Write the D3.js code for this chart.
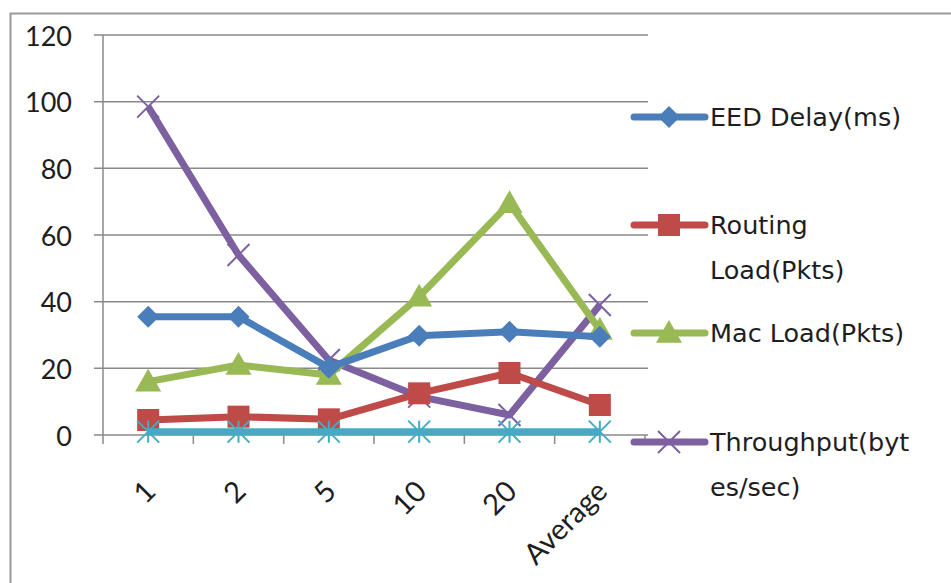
<!DOCTYPE html>
<html>
<head>
<meta charset="utf-8">
<script src="https://cdn.jsdelivr.net/npm/d3@7"></script>
<style>
  html, body { margin: 0; padding: 0; background: #fff; }
  svg { display: block; }
  text { font-family: Lato, "Open Sans", sans-serif; fill: #1e1e1e; }
  .legend text { font-family: "DejaVu Sans", sans-serif; }
</style>
</head>
<body>
<svg id="chart" width="951" height="583"></svg>
<script>
// Category labels along the x axis
const categories = ["1", "2", "5", "10", "20", "Average"];

// Series values, one per category
const eedDelay   = [35.5, 35.5, 20.2, 29.8, 31, 29.5];
const routingLoad = [4.5, 5.5, 4.7, 12.5, 18.6, 9];
const macLoad    = [16, 21, 18, 41.5, 69.5, 31.5];
const throughput = [98.5, 54, 22.5, 11.5, 6, 39];
const extraSeries = [1, 1, 1, 1, 1, 1];

// Y axis ticks
const yTicks = [0, 20, 40, 60, 80, 100, 120];

const series = [
  { name: ["EED Delay(ms)"], values: eedDelay, color: "#4a7ebb", marker: "diamond", legend: true },
  { name: ["Routing", "Load(Pkts)"], values: routingLoad, color: "#be4b48", marker: "square", legend: true },
  { name: ["Mac Load(Pkts)"], values: macLoad, color: "#98b954", marker: "triangle", legend: true },
  { name: ["Throughput(byt", "es/sec)"], values: throughput, color: "#7d60a0", marker: "x", legend: true },
  { name: [""], values: extraSeries, color: "#46aac5", marker: "star", legend: false }
];

const svg = d3.select("#chart");

// outer chart frame (top and left edges visible)
svg.append("rect")
  .attr("x", 10.5).attr("y", 13.5)
  .attr("width", 1000).attr("height", 700)
  .attr("fill", "none").attr("stroke", "#9a9a9a").attr("stroke-width", 2);

const plot = { left: 103, right: 645, top: 35, bottom: 435 };

const x = d3.scaleBand().domain(categories).range([plot.left, plot.right]);
const y = d3.scaleLinear().domain([0, 120]).range([plot.bottom, plot.top]);

// horizontal gridlines
svg.append("g").selectAll("line").data(yTicks).join("line")
  .attr("x1", plot.left - 9).attr("x2", 648)
  .attr("y1", d => y(d)).attr("y2", d => y(d))
  .attr("stroke", "#8a8a8a").attr("stroke-width", 1.5);

// y axis line
svg.append("line")
  .attr("x1", plot.left).attr("x2", plot.left)
  .attr("y1", plot.top).attr("y2", plot.bottom + 9)
  .attr("stroke", "#8a8a8a").attr("stroke-width", 1.5);

// y tick labels
svg.append("g").selectAll("text").data(yTicks).join("text")
  .attr("x", 72).attr("y", d => y(d))
  .attr("text-anchor", "end").attr("dominant-baseline", "central")
  .attr("font-size", 27)
  .text(d => d);

// x axis tick marks at band boundaries
const bounds = categories.map(c => x(c)).concat([plot.right]);
svg.append("g").selectAll("line").data(bounds.slice(1)).join("line")
  .attr("x1", d => d).attr("x2", d => d)
  .attr("y1", plot.bottom).attr("y2", plot.bottom + 9)
  .attr("stroke", "#8a8a8a").attr("stroke-width", 1.5);

// rotated category labels
svg.append("g").selectAll("text").data(categories).join("text")
  .attr("transform", c => `translate(${x(c) + x.bandwidth() / 2 + 1},${plot.bottom + 50}) rotate(-45)`)
  .attr("text-anchor", "end").attr("dominant-baseline", "central")
  .attr("font-size", 29)
  .text(c => c);

// marker drawing helpers
function drawMarker(g, type, color, cx, cy) {
  if (type === "diamond") {
    const s = 11;
    g.append("path").attr("d", `M${cx},${cy - s}L${cx + s},${cy}L${cx},${cy + s}L${cx - s},${cy}Z`).attr("fill", color);
  } else if (type === "square") {
    const s = 11;
    g.append("rect").attr("x", cx - s).attr("y", cy - s).attr("width", 2 * s).attr("height", 2 * s).attr("fill", color);
  } else if (type === "triangle") {
    const s = 13;
    g.append("path").attr("d", `M${cx},${cy - s}L${cx + s},${cy + s * 0.75}L${cx - s},${cy + s * 0.75}Z`).attr("fill", color);
  } else if (type === "x") {
    const s = 11;
    g.append("path").attr("d", `M${cx - s},${cy - s}L${cx + s},${cy + s}M${cx - s},${cy + s}L${cx + s},${cy - s}`)
      .attr("stroke", color).attr("stroke-width", 2).attr("fill", "none");
  } else if (type === "star") {
    const s = 11;
    g.append("path").attr("d", `M${cx - s},${cy - s}L${cx + s},${cy + s}M${cx - s},${cy + s}L${cx + s},${cy - s}M${cx},${cy - s}L${cx},${cy + s}`)
      .attr("stroke", color).attr("stroke-width", 2).attr("fill", "none");
  }
}

const line = d3.line()
  .x((d, i) => x(categories[i]) + x.bandwidth() / 2)
  .y(d => y(d));

// draw lines in reverse so the first series sits on top like the legend order
const drawOrder = [3, 2, 1, 0, 4];
drawOrder.forEach(k => {
  const s = series[k];
  const g = svg.append("g");
  g.append("path").datum(s.values).attr("d", line)
    .attr("fill", "none").attr("stroke", s.color).attr("stroke-width", 7)
    .attr("stroke-linejoin", "round");
  s.values.forEach((v, i) => drawMarker(g, s.marker, s.color, x(categories[i]) + x.bandwidth() / 2, y(v)));
});

// legend
const legendY = [117, 225, 333, 442];
const legend = svg.append("g").attr("class", "legend");
series.filter(s => s.legend).forEach((s, i) => {
  const ly = legendY[i];
  legend.append("line").attr("x1", 634).attr("x2", 705).attr("y1", ly).attr("y2", ly)
    .attr("stroke", s.color).attr("stroke-width", 7).attr("stroke-linecap", "round");
  drawMarker(legend, s.marker, s.color, 669, ly);
  s.name.forEach((t, j) => {
    legend.append("text").attr("x", 710).attr("y", ly + j * 45)
      .attr("dominant-baseline", "central").attr("font-size", 25.5).text(t);
  });
});
</script>
</body>
</html>
